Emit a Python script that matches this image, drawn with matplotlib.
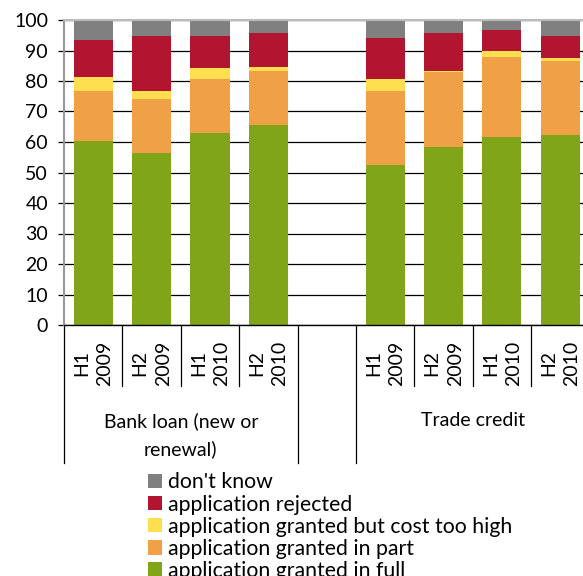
import matplotlib
matplotlib.use("Agg")
import matplotlib.pyplot as plt
import numpy as np
from matplotlib.patches import Patch
from matplotlib.transforms import blended_transform_factory

plt.rcParams["font.family"] = ["Lato", "DejaVu Sans"]

# data (percent of firms)
periods = ["H1\n2009", "H2\n2009", "H1\n2010", "H2\n2010"]
groups = ["Bank loan (new or\nrenewal)", "Trade credit"]
series = ["application granted in full", "application granted in part",
          "application granted but cost too high", "application rejected",
          "don't know"]
colours = ["#80A518", "#F0A145", "#FFDF4F", "#B1152F", "#808080"]

bank_full = [60.3, 56.4, 63.0, 65.6]
bank_part = [16.5, 17.8, 17.8, 17.8]
bank_cost = [4.6, 2.6, 3.3, 1.3]
bank_rejected = [11.9, 17.8, 10.5, 11.2]
bank_dontknow = [6.7, 5.4, 5.4, 4.1]

trade_full = [52.4, 58.4, 61.7, 62.3]
trade_part = [24.4, 24.4, 26.3, 24.4]
trade_cost = [4.0, 0.6, 2.0, 0.7]
trade_rejected = [13.2, 12.5, 6.6, 7.2]
trade_dontknow = [6.0, 4.1, 3.4, 5.4]

bank = [bank_full, bank_part, bank_cost, bank_rejected, bank_dontknow]
trade = [trade_full, trade_part, trade_cost, trade_rejected, trade_dontknow]

n = len(periods)
x_bank = np.arange(n)
x_trade = np.arange(n) + n + 1  # one empty slot between groups

fig = plt.figure(figsize=(5.83, 5.76), dpi=100)
W, H = 583, 576
ax = fig.add_axes([64 / W, (H - 325) / H, (589.5 - 64) / W, 305 / H])

for xs, data in [(x_bank, bank), (x_trade, trade)]:
    bottom = np.zeros(n)
    for vals, col in zip(data, colours):
        ax.bar(xs, vals, bottom=bottom, width=0.67, color=col, zorder=2)
        bottom += np.array(vals)

ax.set_xlim(-0.5, 2 * n + 0.5)
ax.set_ylim(0, 100)
ax.set_yticks(np.arange(0, 101, 10))
ax.yaxis.grid(True, color="black", linewidth=0.9, zorder=0)
ax.set_axisbelow(True)
ax.tick_params(axis="y", length=4.5, width=0.9, pad=7, labelsize=14, colors="black")
ax.spines["left"].set_color("#999999")
ax.spines["left"].set_linewidth(1.5)
ax.spines["top"].set_color("#bbbbbb")
ax.spines["top"].set_linewidth(1.5)
ax.spines["right"].set_visible(False)
ax.spines["bottom"].set_color("black")
ax.spines["bottom"].set_linewidth(1.0)

ax.set_xticks(np.concatenate([x_bank, x_trade]))
ax.set_xticklabels(periods * 2, rotation=90, fontsize=14, multialignment="center",
                   linespacing=1.45)
ax.tick_params(axis="x", length=0, pad=11)

# category separators below the axis
tr = blended_transform_factory(ax.transData, ax.transAxes)
short = 61 / 305
long_ = 138 / 305
for xs in (x_bank, x_trade):
    for b in xs[:-1] + 0.5:
        ax.plot([b, b], [0, -short], transform=tr, color="black", lw=0.9, clip_on=False)
    for b in (xs[0] - 0.5, xs[-1] + 0.5):
        ax.plot([b, b], [0, -long_], transform=tr, color="black", lw=0.9, clip_on=False)

ax.text(x_bank.mean(), -0.286, groups[0], transform=tr, ha="center", va="top",
        fontsize=14, linespacing=1.7)
ax.text(x_trade.mean(), -0.286, groups[1], transform=tr, ha="center", va="top",
        fontsize=14)

handles = [Patch(facecolor=c, edgecolor="none") for c in colours[::-1]]
fig.legend(handles, series[::-1], loc="upper left",
           bbox_to_anchor=(139.5 / W, (H - 464) / H), frameon=False,
           fontsize=15.3, handlelength=0.65, handleheight=0.65,
           handletextpad=0.28, labelspacing=0.1, borderaxespad=0)

fig.savefig("out.png", dpi=100)
